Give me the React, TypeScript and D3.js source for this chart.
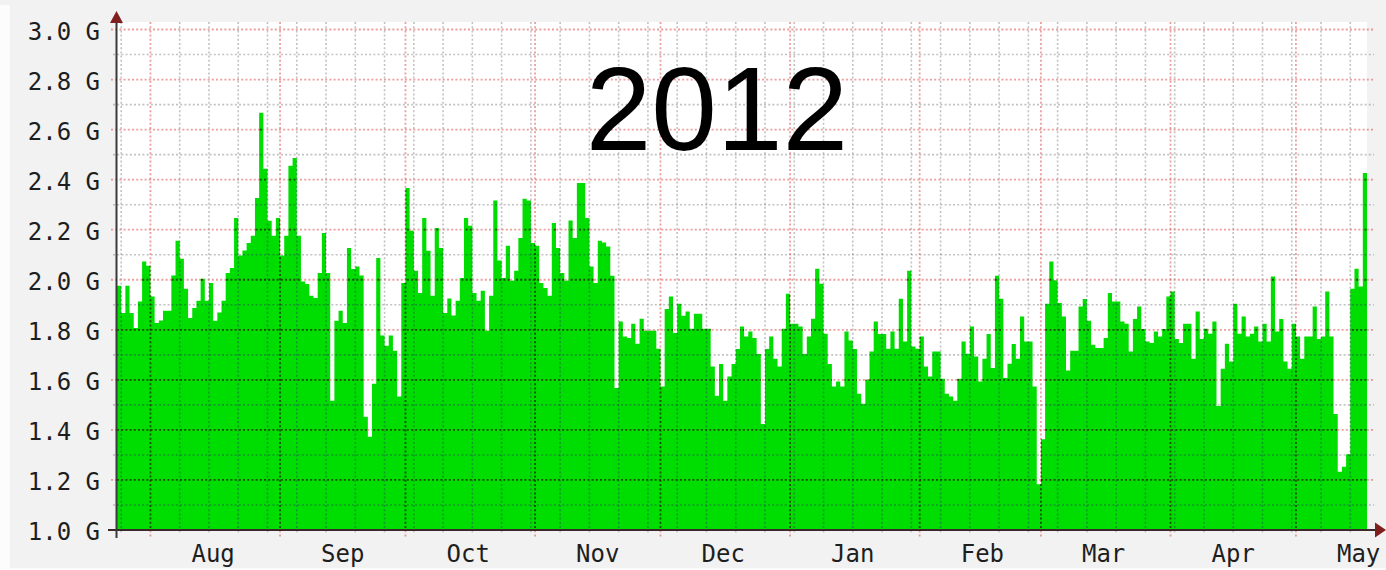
import React from "react";
import * as d3 from "d3";

// ---- data (daily values in G, first bar = 2011-07-24) ----
const startDay = Date.UTC(2011, 6, 24);
const endDay = Date.UTC(2012, 4, 18);
const dailyValuesG = [
  1.976, 1.867, 1.976, 1.867, 1.807, 1.913, 2.073, 2.056,
  1.933, 1.827, 1.837, 1.876, 1.876, 2.017, 2.156, 2.084, 1.964, 1.847,
  1.887, 1.916, 2.004, 1.916, 1.987, 1.836, 1.869, 1.916, 2.027, 2.047,
  2.247, 2.097, 2.117, 2.147, 2.176, 2.327, 2.667, 2.444, 2.236, 2.176,
  2.247, 2.097, 2.176, 2.456, 2.487, 2.176, 1.993, 1.983, 1.936, 1.927,
  2.027, 2.187, 2.027, 1.516, 1.836, 1.876, 1.827, 2.127, 2.043, 2.053,
  2.017, 1.453, 1.373, 1.584, 2.087, 1.777, 1.736, 1.777, 1.716, 1.533,
  1.987, 2.367, 2.196, 2.036, 1.947, 2.247, 2.116, 1.936, 2.207, 2.127,
  1.867, 1.925, 1.857, 1.916, 2.007, 2.247, 2.216, 1.947, 1.916, 1.956,
  1.796, 1.936, 2.317, 2.077, 2.007, 2.136, 1.996, 2.036, 2.167, 2.324,
  2.317, 2.147, 2.136, 1.987, 1.967, 1.936, 2.227, 2.127, 2.027, 1.996,
  2.237, 2.167, 2.387, 2.387, 2.247, 2.053, 1.987, 2.156, 2.149, 2.133,
  2.016, 1.567, 1.833, 1.773, 1.767, 1.824, 1.744, 1.844, 1.796, 1.796,
  1.796, 1.724, 1.573, 1.883, 1.933, 1.787, 1.904, 1.856, 1.873, 1.804,
  1.864, 1.864, 1.804, 1.804, 1.653, 1.536, 1.663, 1.516, 1.613, 1.663,
  1.723, 1.813, 1.773, 1.793, 1.767, 1.703, 1.424, 1.723, 1.773, 1.684,
  1.653, 1.804, 1.944, 1.824, 1.824, 1.813, 1.703, 1.773, 1.844, 2.044,
  1.984, 1.784, 1.663, 1.573, 1.593, 1.573, 1.793, 1.757, 1.723, 1.544,
  1.504, 1.600, 1.713, 1.833, 1.783, 1.783, 1.724, 1.793, 1.724, 1.924,
  1.753, 2.036, 1.733, 1.724, 1.773, 1.653, 1.613, 1.713, 1.713, 1.604,
  1.544, 1.533, 1.516, 1.604, 1.753, 1.704, 1.813, 1.693, 1.593, 1.684,
  1.783, 1.647, 2.016, 1.924, 1.607, 1.664, 1.743, 1.684, 1.853, 1.753,
  1.753, 1.573, 1.183, 1.363, 1.904, 2.073, 1.997, 1.907, 1.853, 1.637,
  1.716, 1.716, 1.893, 1.923, 1.836, 1.740, 1.727, 1.727, 1.767, 1.947,
  1.913, 1.913, 1.833, 1.824, 1.713, 1.843, 1.893, 1.803, 1.753, 1.747,
  1.793, 1.773, 1.803, 1.933, 1.953, 1.763, 1.747, 1.824, 1.824, 1.684,
  1.873, 1.763, 1.804, 1.784, 1.833, 1.496, 1.644, 1.744, 1.673, 1.904,
  1.784, 1.853, 1.773, 1.784, 1.813, 1.753, 1.824, 1.753, 2.013, 1.793,
  1.843, 1.673, 1.644, 1.824, 1.773, 1.684, 1.773, 1.773, 1.893, 1.763,
  1.773, 1.953, 1.773, 1.464, 1.233, 1.253, 1.303, 1.964, 2.044, 1.973,
  2.427,
];
const yMajorTicks = [1.0, 1.2, 1.4, 1.6, 1.8, 2.0, 2.2, 2.4, 2.6, 2.8, 3.0];
const yMinorTicks = [1.1, 1.3, 1.5, 1.7, 1.9, 2.1, 2.3, 2.5, 2.7, 2.9];
const yTickLabels = ["1.0 G", "1.2 G", "1.4 G", "1.6 G", "1.8 G", "2.0 G", "2.2 G", "2.4 G", "2.6 G", "2.8 G", "3.0 G"];
const monthNames = ["Aug", "Sep", "Oct", "Nov", "Dec", "Jan", "Feb", "Mar", "Apr", "May"];
const titleText = "2012";

// ---- layout ----
const W = 1386;
const H = 570;
const PL = 117;
const PR = 1367;
const PT = 22;
const PB = 530;

const MONO = "'DejaVu Sans Mono', monospace";
const GREEN = "#00dd00";
const MGRID = "rgba(222,79,79,0.55)";
const GRID = "rgba(143,143,143,0.55)";
const MGRID_ON = "rgba(40,30,0,0.75)";
const GRID_ON = "rgba(40,70,90,0.45)";

export default function App() {
  const x = d3.scaleUtc().domain([new Date(startDay), new Date(endDay)]).range([PL, PR]);
  const y = d3.scaleLinear().domain([1, 3]).range([PB, 29.5]);

  const data = dailyValuesG.map((v, i) => ({ t: d3.utcDay.offset(new Date(startDay), i), v }));
  const last = data[data.length - 1];
  const stepData = [...data, { t: d3.utcDay.offset(last.t, 1), v: last.v }];
  const areaGen = d3
    .area<{ t: Date; v: number }>()
    .x((d) => x(d.t))
    .y0(y(1))
    .y1((d) => y(d.v))
    .curve(d3.curveStepAfter);
  const areaPath = areaGen(stepData) || "";

  const [d0, d1] = x.domain();
  const months = d3.utcMonth.range(d3.utcMonth.ceil(d0), d1);
  const monthSet = new Set(months.map((m) => +m));
  const weeks = d3.utcMonday.range(d0, d1).filter((w) => !monthSet.has(+w));

  const hLines = (color: string, ext: boolean) => (
    <g>
      {yMinorTicks.map((t) => (
        <line key={"hm" + t} x1={ext ? PL - 4 : PL} x2={ext ? PR + 7 : PR} y1={y(t)} y2={y(t)}
          stroke={ext ? GRID : color} strokeWidth={1.6} strokeDasharray="2 2.2" />
      ))}
      {yMajorTicks.filter((t) => t > 1).map((t) => (
        <line key={"hM" + t} x1={ext ? PL - 6 : PL} x2={ext ? PR + 7 : PR} y1={y(t)} y2={y(t)}
          stroke={ext ? MGRID : color} strokeWidth={1.8} strokeDasharray="2 2.2" />
      ))}
    </g>
  );
  const vLines = (minorColor: string, majorColor: string, ext: boolean) => (
    <g>
      {weeks.map((w) => (
        <line key={"vm" + +w} x1={x(w)} x2={x(w)} y1={PT} y2={ext ? PB + 4 : PB}
          stroke={minorColor} strokeWidth={1.6} strokeDasharray="2 2.2" />
      ))}
      {months.map((m) => (
        <line key={"vM" + +m} x1={x(m)} x2={x(m)} y1={PT} y2={ext ? PB + 7 : PB}
          stroke={majorColor} strokeWidth={1.8} strokeDasharray="2 2.2" />
      ))}
    </g>
  );

  return (
    <svg width={W} height={H} style={{ position: "absolute", left: 0, top: 0, display: "block" }}>
      <defs>
        <clipPath id="areaClip">
          <path d={areaPath} />
        </clipPath>
        <clipPath id="canvasClip">
          <rect x={PL} y={PT} width={PR - PL} height={PB - PT} />
        </clipPath>
      </defs>
      <rect x={0} y={0} width={W} height={H} fill="#fcfcfc" />
      <rect x={10} y={0} width={W - 10} height={568} fill="#f2f2f2" />
      <rect x={0} y={0} width={10} height={5} fill="#f2f2f2" />
      <rect x={PL} y={PT} width={PR - PL} height={PB - PT} fill="#ffffff" />

      {/* grid under the data */}
      {hLines(GRID, true)}
      {vLines(GRID, MGRID, true)}

      {/* data area */}
      <path d={areaPath} fill={GREEN} clipPath="url(#canvasClip)" />

      {/* grid seen through the data */}
      <g clipPath="url(#areaClip)">
        <g clipPath="url(#canvasClip)">
          {yMinorTicks.map((t) => (
            <line key={"om" + t} x1={PL} x2={PR} y1={y(t)} y2={y(t)} stroke={GRID_ON} strokeWidth={1.6} strokeDasharray="2 2.2" />
          ))}
          {yMajorTicks.filter((t) => t > 1).map((t) => (
            <line key={"oM" + t} x1={PL} x2={PR} y1={y(t)} y2={y(t)} stroke={MGRID_ON} strokeWidth={1.8} strokeDasharray="2 2.2" />
          ))}
          {vLines(GRID_ON, MGRID_ON, false)}
        </g>
      </g>

      {/* axes */}
      <line x1={PL - 9} x2={1378} y1={PB} y2={PB} stroke="#3a2a2a" strokeWidth={2} />
      <line x1={PL - 0.5} x2={PL - 0.5} y1={PB + 8} y2={PT - 1} stroke="#3a3a3a" strokeWidth={2} />
      <path d={`M${PL - 0.5},11 L${PL - 7},23 L${PL + 6},23 Z`} fill="#801f1f" />
      <path d={`M1386,${PB} L1375,${PB - 7.5} L1375,${PB + 7.5} Z`} fill="#801f1f" />

      {/* y labels */}
      {yMajorTicks.map((t, i) => (
        <text key={"yl" + t} x={100} y={y(t) + 10} textAnchor="end" fontFamily={MONO} fontSize={24} fill="#1e1e1e">
          {yTickLabels[i]}
        </text>
      ))}

      {/* x labels */}
      {months.map((m, i) => (
        <text key={"xl" + +m} x={x(d3.utcDay.offset(m, 15))} y={562} textAnchor="middle" fontFamily={MONO} fontSize={24} fill="#1e1e1e">
          {monthNames[i]}
        </text>
      ))}

      {/* title overlay */}
      <text x={717} y={150} textAnchor="middle" fontFamily="'Liberation Sans', Arial, sans-serif" fontSize={118} fill="#000">
        {titleText}
      </text>
    </svg>
  );
}
